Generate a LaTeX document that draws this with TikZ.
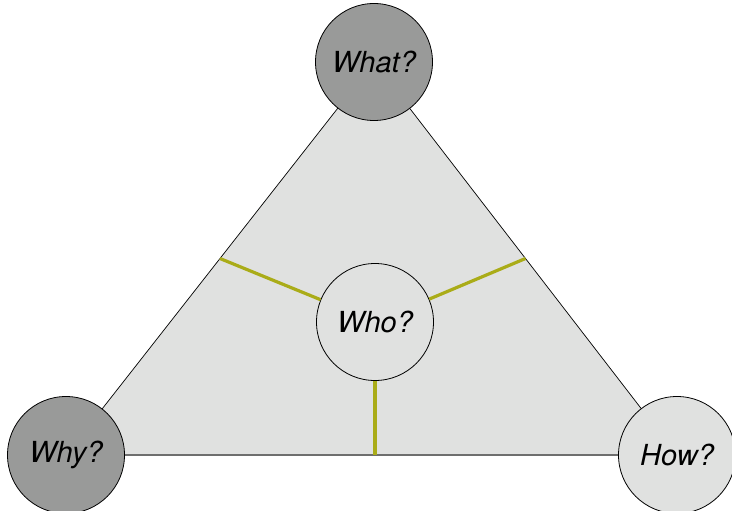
\documentclass[tikz,border=0pt]{standalone}
\usepackage{fontspec}
\setmainfont{TeX Gyre Heros}
\usetikzlibrary{calc}
\definecolor{darkfill}{RGB}{153,154,153}
\definecolor{lightfill}{RGB}{224,225,224}
\definecolor{spokecol}{RGB}{170,172,24}
\definecolor{baseline}{RGB}{110,110,110}
\begin{document}
\begin{tikzpicture}[x=1pt,y=-1pt,
  bubble/.style={circle,draw=black,line width=0.8pt,minimum size=117pt,inner sep=0pt,
    font=\fontsize{29}{34}\selectfont\itshape},
  darkbubble/.style={bubble,fill=darkfill},
  lightbubble/.style={bubble,fill=lightfill},
  spoke/.style={draw=spokecol,line width=3.2pt},
  side/.style={draw=black,line width=0.7pt},
  basestyle/.style={draw=baseline,line width=1.6pt}]
\useasboundingbox (0,0) rectangle (732,511);
\coordinate (A) at (374,62);
\coordinate (B) at (66,455);
\coordinate (C) at (677,455);
\fill[lightfill] (A)--(B)--(C)--cycle;
\draw[side] (B)--(A)--(C);
\draw[basestyle] (B)--(C);
\coordinate (mL) at ($(A)!0.5!(B)$);
\coordinate (mR) at ($(A)!0.5!(C)$);
\node[lightbubble] (who) at (375,322) {Who?};
\coordinate (mB) at (who.south |- B);
\draw[spoke] (mL) -- (who);
\draw[spoke] (mR) -- (who);
\draw[spoke] (mB) -- (who.south);
\node[darkbubble] (what) at (A) {What?};
\node[darkbubble] (why) at (B) {Why?};
\node[lightbubble] (how) at (C) {How?};
\end{tikzpicture}
\end{document}
